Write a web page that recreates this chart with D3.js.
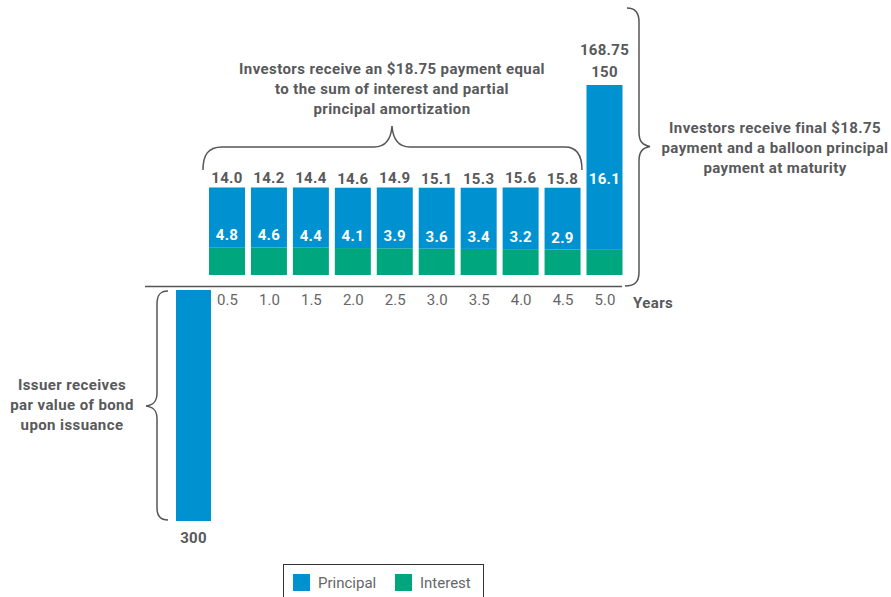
<!DOCTYPE html>
<html>
<head>
<meta charset="utf-8">
<script src="https://cdn.jsdelivr.net/npm/d3@7"></script>
<style>
  html, body { margin: 0; padding: 0; background: #fff; }
  svg { display: block; font-family: Roboto, "Noto Sans", sans-serif; }
</style>
</head>
<body>
<svg id="chart" width="891" height="597"></svg>
<script>
// ---- data ----
const years = [0.5, 1.0, 1.5, 2.0, 2.5, 3.0, 3.5, 4.0, 4.5, 5.0];
const tickLabels = ["0.5", "1.0", "1.5", "2.0", "2.5", "3.0", "3.5", "4.0", "4.5", "5.0"];
const interest = [4.8, 4.6, 4.4, 4.1, 3.9, 3.6, 3.4, 3.2, 2.9, 2.65];
const principal = [14.0, 14.2, 14.4, 14.6, 14.9, 15.1, 15.3, 15.6, 15.8, 16.1];
const balloon = [0, 0, 0, 0, 0, 0, 0, 0, 0, 150];
const issuanceYear = 0;
const issuanceValue = 300;
const totalFinal = 168.75;
const legendItems = ["Principal", "Interest"];

const BLUE = "#0092d0", GREEN = "#00a67e", TXT = "#58595b", TICK = "#666666", LINE = "#555555";

const svg = d3.select("#chart");

// schematic (not-to-scale) piecewise scales as in the reference
const x = d3.scaleLinear().domain([0, 0.5, 5]).range([193.5, 227, 604.5]);
const yPos = d3.scaleLinear().domain([0, 2.5, 5, 18.75, 168.75]).range([275, 250, 247, 187.5, 85]);
const yNeg = d3.scaleLinear().domain([0, 300]).range([290, 521]);
const barW = 36;

const rows = years.map((yr, i) => ({
  yr, label: tickLabels[i], interest: interest[i], principal: principal[i], balloon: balloon[i],
  last: i === years.length - 1
}));

// axis line
svg.append("line").attr("x1", 145).attr("x2", 622).attr("y1", 286.5).attr("y2", 286.5)
  .attr("stroke", LINE).attr("stroke-width", 1.5);

// issuance bar (negative)
svg.append("rect")
  .attr("x", x(issuanceYear) - 17.5).attr("width", 35)
  .attr("y", yNeg(0)).attr("height", yNeg(issuanceValue) - yNeg(0))
  .attr("fill", BLUE);
svg.append("text").attr("x", x(issuanceYear)).attr("y", yNeg(issuanceValue) + 17)
  .attr("text-anchor", "middle").attr("dominant-baseline", "central")
  .attr("font-weight", 700).attr("font-size", 15).attr("letter-spacing", 0.3).attr("fill", TXT).text(issuanceValue);

// interest segments
svg.selectAll("rect.int").data(rows).join("rect").attr("class", "int")
  .attr("x", d => x(d.yr) - barW / 2).attr("width", barW)
  .attr("y", d => yPos(d.interest)).attr("height", d => yPos(0) - yPos(d.interest))
  .attr("fill", GREEN);

// principal segments
svg.selectAll("rect.pri").data(rows).join("rect").attr("class", "pri")
  .attr("x", d => x(d.yr) - barW / 2).attr("width", barW)
  .attr("y", d => yPos(d.interest + d.principal + d.balloon))
  .attr("height", d => yPos(d.interest) - yPos(d.interest + d.principal + d.balloon))
  .attr("fill", BLUE);

// principal labels
svg.selectAll("text.pl").data(rows).join("text").attr("class", "pl")
  .attr("x", d => x(d.yr)).attr("y", d => yPos(d.interest + d.principal) - 9)
  .attr("text-anchor", "middle").attr("dominant-baseline", "central")
  .attr("font-weight", 700).attr("font-size", 15).attr("letter-spacing", 0.3)
  .attr("fill", d => d.last ? "#fff" : TXT)
  .text(d => d.principal.toFixed(1));

// interest labels (inside, white)
svg.selectAll("text.il").data(rows.filter(d => !d.last)).join("text").attr("class", "il")
  .attr("x", d => x(d.yr)).attr("y", d => yPos(d.interest) - 12)
  .attr("text-anchor", "middle").attr("dominant-baseline", "central")
  .attr("font-weight", 700).attr("font-size", 15).attr("letter-spacing", 0.3).attr("fill", "#fff")
  .text(d => d.interest.toFixed(1));

// balloon and total labels
const lastRow = rows[rows.length - 1];
svg.append("text").attr("x", x(lastRow.yr)).attr("y", yPos(totalFinal) - 13)
  .attr("text-anchor", "middle").attr("dominant-baseline", "central")
  .attr("font-weight", 700).attr("font-size", 15).attr("letter-spacing", 0.3).attr("fill", TXT).text(lastRow.balloon);
svg.append("text").attr("x", x(lastRow.yr)).attr("y", yPos(totalFinal) - 35)
  .attr("text-anchor", "middle").attr("dominant-baseline", "central")
  .attr("font-weight", 700).attr("font-size", 15).attr("letter-spacing", 0.3).attr("fill", TXT).text(totalFinal);

// x axis tick labels
const axis = d3.axisBottom(x).tickValues(years).tickSize(0).tickFormat((d, i) => tickLabels[i]);
const gAx = svg.append("g").attr("transform", "translate(0,294)").call(axis);
gAx.select(".domain").remove();
gAx.selectAll("text").attr("font-size", 15).attr("fill", TICK)
  .attr("font-family", "Roboto, 'Noto Sans', sans-serif").attr("dy", "0.71em").attr("y", 0);
svg.append("text").attr("x", 633).attr("y", 303).attr("dominant-baseline", "central")
  .attr("font-weight", 700).attr("font-size", 15).attr("letter-spacing", 0.4).attr("fill", TXT).text("Years");

// braces
const brace = (d) => svg.append("path").attr("d", d).attr("fill", "none")
  .attr("stroke", LINE).attr("stroke-width", 1.5);
brace("M203,170 C203,155 208,147 222,147 L374,147 C385,147 391,140 392,126 C393,140 399,147 410,147 L565,147 C577,147 582,155 582,170");
brace("M627,8 C635,8 639,12 639,22 L639,132 C639,141 642,145 650,146.5 C642,148 639,152 639,161 L639,272 C639,282 635,286 625,286");
brace("M168,291 C160,291 157,295 157,304 L157,393 C157,401 154,405 146,406 C154,407 157,411 157,419 L157,508 C157,516 160,520 168,520");

// annotations
function multi(lines, cx, y0) {
  const t = svg.append("text").attr("text-anchor", "middle").attr("font-weight", 700)
    .attr("font-size", 15).attr("letter-spacing", 0.4).attr("fill", TXT);
  lines.forEach((l, i) => t.append("tspan").attr("x", cx).attr("y", y0 + i * 20)
    .attr("dominant-baseline", "central").text(l));
}
multi(["Investors receive an $18.75 payment equal", "to the sum of interest and partial", "principal amortization"], 392, 69);
multi(["Investors receive final $18.75", "payment and a balloon principal", "payment at maturity"], 775, 128);
multi(["Issuer receives", "par value of bond", "upon issuance"], 72, 385);

// legend
svg.append("rect").attr("x", 283.5).attr("y", 564.5).attr("width", 200).attr("height", 40)
  .attr("fill", "none").attr("stroke", "#333").attr("stroke-width", 1);
const legColors = [BLUE, GREEN];
const legX = [293, 395];
legendItems.forEach((name, i) => {
  svg.append("rect").attr("x", legX[i]).attr("y", 574).attr("width", 17).attr("height", 17).attr("fill", legColors[i]);
  svg.append("text").attr("x", legX[i] + 25).attr("y", 582.5).attr("dominant-baseline", "central")
    .attr("font-size", 15).attr("fill", TICK).text(name);
});
</script>
</body>
</html>
